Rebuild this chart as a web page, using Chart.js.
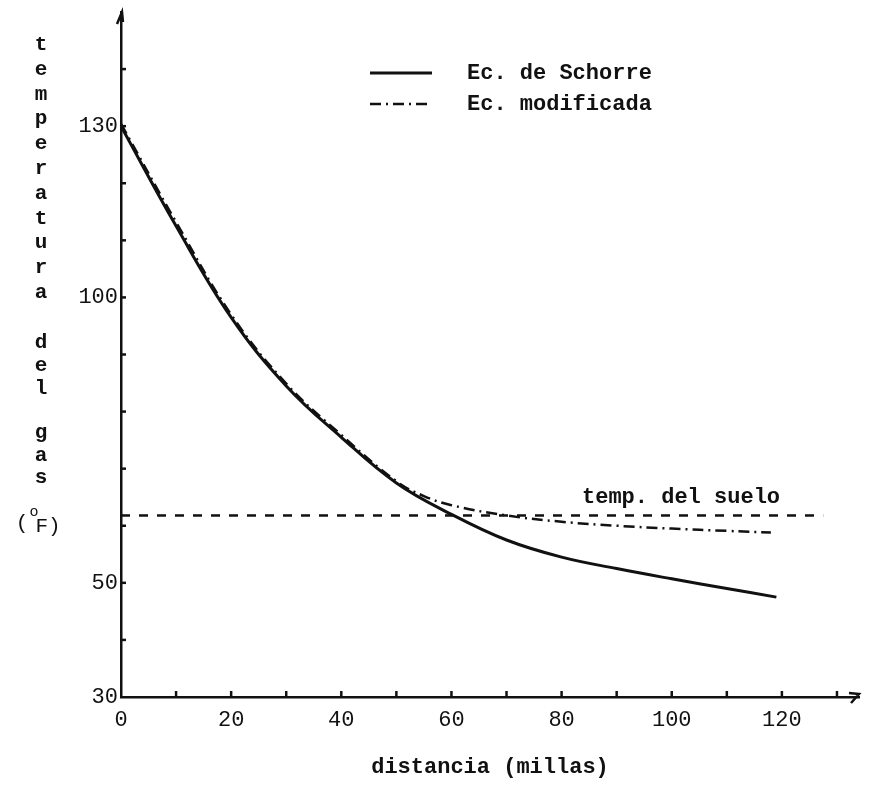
<!DOCTYPE html>
<html>
<head>
<meta charset="utf-8">
<script src="https://cdn.jsdelivr.net/npm/chart.js@4/dist/chart.umd.min.js"></script>
<style>
  html, body { margin: 0; padding: 0; background: #fff; }
  #wrap { width: 869px; height: 790px; }
</style>
</head>
<body>
<div id="wrap"><canvas id="myChart" width="869" height="790"></canvas></div>
<script>
// distance (miles) and gas temperature (F)
const schorreDist = [0, 10, 20, 30, 40, 50, 60, 70, 80, 90, 100, 110, 119];
const schorreTemp = [130, 112.5, 96.5, 84.5, 75.5, 67.5, 62, 57.5, 54.5, 52.5, 50.7, 49, 47.5];

const modDist = [0, 10, 20, 30, 40, 50, 55, 60, 70, 80, 90, 100, 110, 118];
const modTemp = [130.4, 113.2, 97, 84.9, 75.9, 67.8, 65.2, 63.6, 61.8, 60.7, 60, 59.5, 59.1, 58.8];

const groundDist = [0, 127.5];
const groundTemp = [61.8, 61.8];

const xTickLabels = [0, 20, 40, 60, 80, 100, 120];
const yTickLabels = [30, 50, 100, 130];

const legendNames = ['Ec. de Schorre', 'Ec. modificada'];
const groundName = 'temp. del suelo';
const yTitle = ['t','e','m','p','e','r','a','t','u','r','a','','d','e','l','','g','a','s'];

const INK = '#111';
const FONT = '"Liberation Mono", "DejaVu Sans Mono", monospace';
const DASHDOT = [11, 5, 2, 5];

const toPts = (xs, ys) => xs.map((x, i) => ({x: x, y: ys[i]}));

const decor = {
    id: 'decor',
    afterDraw(chart) {
        const ctx = chart.ctx;
        const xs = chart.scales.x, ys = chart.scales.y;
        const x0 = xs.getPixelForValue(0), y0 = ys.getPixelForValue(30);
        ctx.save();
        ctx.strokeStyle = INK;
        ctx.fillStyle = INK;
        ctx.lineWidth = 2.5;

        // inward tick marks
        for (let v = 10; v <= 130; v += 10) {
            const px = xs.getPixelForValue(v);
            ctx.beginPath(); ctx.moveTo(px, y0); ctx.lineTo(px, y0 - 6); ctx.stroke();
        }
        for (let v = 40; v <= 140; v += 10) {
            const py = ys.getPixelForValue(v);
            ctx.beginPath(); ctx.moveTo(x0, py); ctx.lineTo(x0 + 5, py); ctx.stroke();
        }

        // arrow heads
        const top = chart.chartArea.top, right = chart.chartArea.right;
        ctx.beginPath();
        ctx.moveTo(x0 - 4, top + 12); ctx.lineTo(x0 + 1, top); ctx.lineTo(x0 + 2, top + 10);
        ctx.stroke();
        ctx.beginPath();
        ctx.moveTo(right - 10, y0 - 4); ctx.lineTo(right, y0 - 3); ctx.lineTo(right - 8, y0 + 6);
        ctx.stroke();

        // vertical y-axis title, one letter per line
        ctx.font = 'bold 21px ' + FONT;
        ctx.textAlign = 'center';
        ctx.textBaseline = 'middle';
        const ySteps = [45, 70, 95, 119, 144, 169, 194, 219, 243, 268, 293, 0, 343, 366, 389, 0, 433, 456, 478];
        yTitle.forEach((ch, i) => { if (ch) ctx.fillText(ch, 41, ySteps[i]); });
        ctx.font = '21px ' + FONT;
        ctx.fillText('(', 22, 523);
        ctx.fillText('F)', 48, 526);
        ctx.font = '15px ' + FONT;
        ctx.fillText('o', 34, 512);

        // legend
        ctx.font = 'bold 22px ' + FONT;
        ctx.textAlign = 'left';
        const rows = [73, 104];
        rows.forEach((ry, i) => {
            ctx.setLineDash(i === 0 ? [] : DASHDOT);
            ctx.lineWidth = i === 0 ? 3 : 2.5;
            ctx.beginPath(); ctx.moveTo(370, ry); ctx.lineTo(432, ry); ctx.stroke();
            ctx.setLineDash([]);
            ctx.fillText(legendNames[i], 467, ry);
        });

        // ground temperature label
        ctx.fillText(groundName, 582, ys.getPixelForValue(groundTemp[0]) - 18);
        ctx.restore();
    }
};

const data = {
    datasets: [
        {
            label: legendNames[0],
            data: toPts(schorreDist, schorreTemp),
            borderColor: INK,
            borderWidth: 3,
            tension: 0.4,
            pointRadius: 0
        },
        {
            label: legendNames[1],
            data: toPts(modDist, modTemp),
            borderColor: INK,
            borderWidth: 2.5,
            borderDash: DASHDOT,
            tension: 0.4,
            pointRadius: 0
        },
        {
            label: groundName,
            data: toPts(groundDist, groundTemp),
            borderColor: INK,
            borderWidth: 2.5,
            borderDash: [9, 9],
            pointRadius: 0
        }
    ]
};

const config = {
    type: 'line',
    data: data,
    options: {
        responsive: false,
        animation: false,
        layout: { padding: { top: 12, right: 10, left: 0, bottom: 0 } },
        plugins: {
            legend: { display: false },
            tooltip: { enabled: false }
        },
        scales: {
            x: {
                type: 'linear',
                min: 0,
                max: 134,
                afterFit: s => { s.height = 93; },
                afterBuildTicks: s => { s.ticks = s.ticks.filter(t => t.value % 10 === 0); },
                grid: { display: false },
                border: { display: true, color: INK, width: 2.5 },
                ticks: {
                    stepSize: 10,
                    autoSkip: false,
                    maxRotation: 0,
                    padding: 2,
                    color: INK,
                    font: { family: FONT, size: 22 },
                    callback: v => xTickLabels.includes(v) ? String(v) : ''
                },
                title: {
                    display: true,
                    text: 'distancia (millas)',
                    color: INK,
                    font: { family: FONT, size: 22, weight: 'bold' },
                    padding: { top: 0, bottom: 9 }
                }
            },
            y: {
                min: 30,
                max: 150,
                afterFit: s => { s.width = 121; },
                grid: { display: false },
                border: { display: true, color: INK, width: 2.5 },
                ticks: {
                    stepSize: 10,
                    autoSkip: false,
                    padding: -5,
                    color: INK,
                    font: { family: FONT, size: 22 },
                    callback: v => yTickLabels.includes(v) ? String(v) : ''
                }
            }
        }
    },
    plugins: [decor]
};

const myChart = new Chart(document.getElementById('myChart'), config);
</script>
</body>
</html>
